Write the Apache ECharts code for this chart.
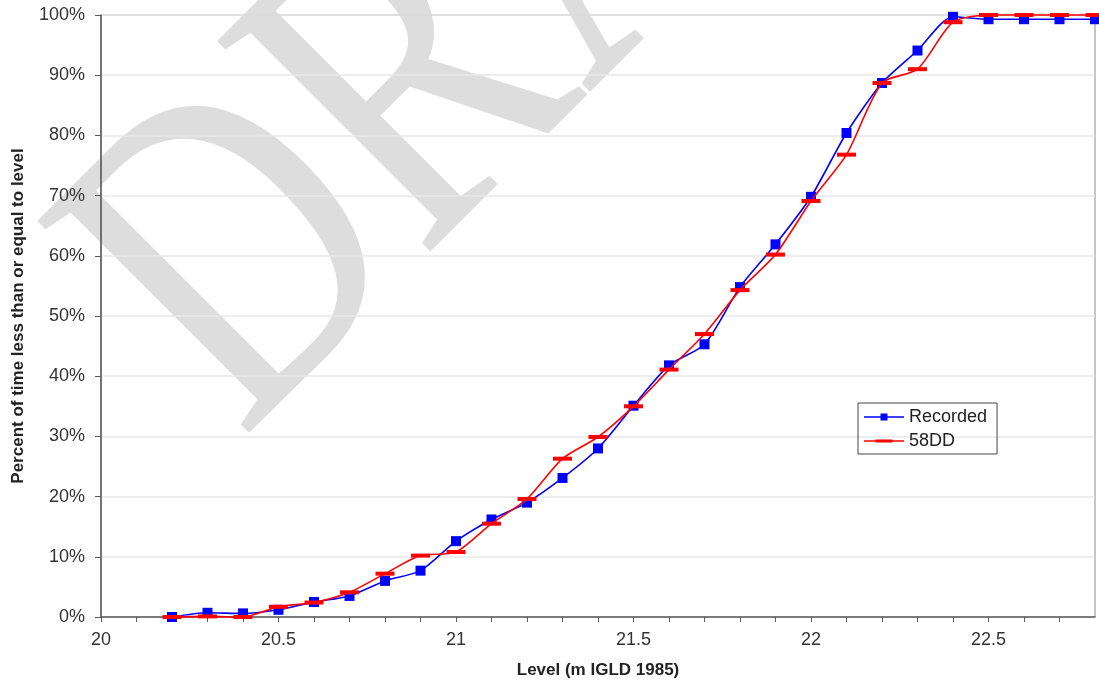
<!DOCTYPE html>
<html>
<head>
<meta charset="utf-8">
<script src="https://cdn.jsdelivr.net/npm/echarts@6/dist/echarts.min.js"></script>
<style>
  html, body { margin: 0; padding: 0; background: #ffffff; }
  #chart { width: 1099px; height: 684px; }
</style>
</head>
<body>
<div id="chart"></div>
<script>
// Water level (m IGLD 1985) at which each cumulative percentage is read
const levels = [20.2, 20.3, 20.4, 20.5, 20.6, 20.7, 20.8, 20.9, 21.0, 21.1, 21.2, 21.3, 21.4, 21.5,
                21.6, 21.7, 21.8, 21.9, 22.0, 22.1, 22.2, 22.3, 22.4, 22.5, 22.6, 22.7, 22.8];

// Percent of time the level is less than or equal to the value above
const recorded = [0.0, 0.7, 0.6, 1.2, 2.5, 3.5, 6.0, 7.7, 12.6, 16.2, 19.0, 23.1, 28.0, 35.1,
                  41.8, 45.3, 54.8, 61.9, 69.8, 80.4, 88.7, 94.1, 99.7, 99.3, 99.3, 99.3, 99.3];
const dd58 = [0.0, 0.1, 0.0, 1.7, 2.4, 4.1, 7.2, 10.2, 10.8, 15.5, 19.6, 26.3, 29.9, 35.0,
              41.1, 47.0, 54.3, 60.2, 69.1, 76.8, 88.7, 91.0, 98.8, 100, 100, 100, 100];

const seriesNames = ['Recorded', '58DD'];
const xTitle = 'Level (m IGLD 1985)';
const yTitle = 'Percent of time less than or equal to level';
const watermarkText = 'DRAFT';

const pairs = (ys) => levels.map((x, i) => [x, ys[i]]);
const sans = '"Liberation Sans", Arial, sans-serif';

// Legend icons: a thin line through a marker; the corner points pin the icon box to 40x10
const iconSquare = 'path://M0,0L0,0M40,10L40,10M0,4.2H40V5.8H0ZM16.5,1.5H23.5V8.5H16.5Z';
const iconDash = 'path://M0,0L0,0M40,10L40,10M0,4.2H40V5.8H0ZM11.5,3.4H28.5V6.6H11.5Z';

const chart = echarts.init(document.getElementById('chart'), null, { renderer: 'canvas' });

chart.setOption({
  animation: false,
  backgroundColor: '#ffffff',
  textStyle: { fontFamily: sans },
  graphic: {
    elements: [{
      type: 'text',
      silent: true,
      z: -100,
      x: 157,
      y: 355,
      rotation: Math.PI / 4,
      scaleX: 1,
      scaleY: 1.3,
      style: {
        text: watermarkText,
        fontSize: 352,
        fontFamily: '"Liberation Serif", "Times New Roman", serif',
        fill: '#dddddd',
        align: 'left',
        verticalAlign: 'middle'
      }
    }]
  },
  grid: {
    left: 101,
    right: 4,
    top: 15,
    bottom: 67,
    show: true,
    borderColor: '#8c8c8c',
    borderWidth: 1,
    backgroundColor: 'transparent'
  },
  legend: {
    orient: 'vertical',
    left: 858,
    top: 403,
    data: [
      { name: seriesNames[0], icon: iconSquare },
      { name: seriesNames[1], icon: iconDash }
    ],
    borderColor: '#444444',
    borderWidth: 1,
    padding: [5, 10, 4, 6],
    itemGap: 6,
    itemWidth: 40,
    itemHeight: 10,
    textStyle: { fontSize: 18, color: '#222222', fontFamily: sans }
  },
  xAxis: {
    type: 'value',
    min: 20,
    max: 22.8,
    interval: 0.1,
    name: xTitle,
    nameLocation: 'middle',
    nameGap: 45,
    nameTextStyle: { fontSize: 17, fontWeight: 'bold', color: '#222222', fontFamily: sans },
    axisLine: { show: true, onZero: false, lineStyle: { color: '#5a5a5a', width: 1.5 } },
    axisTick: { show: true, inside: false, length: 5, lineStyle: { color: '#5a5a5a', width: 1 } },
    axisLabel: {
      show: true,
      margin: 14,
      fontSize: 18,
      color: '#333333',
      showMaxLabel: false,
      formatter: (v) => {
        const twice = v * 2;
        return Math.abs(twice - Math.round(twice)) < 1e-6 ? String(+v.toFixed(1)) : '';
      }
    },
    splitLine: { show: false }
  },
  yAxis: {
    type: 'value',
    min: 0,
    max: 100,
    interval: 10,
    name: yTitle,
    nameLocation: 'middle',
    nameGap: 74,
    nameTextStyle: { fontSize: 17, fontWeight: 'bold', color: '#222222', fontFamily: sans },
    axisLine: { show: true, lineStyle: { color: '#5a5a5a', width: 1.5 } },
    axisTick: { show: true, inside: false, length: 6, lineStyle: { color: '#5a5a5a', width: 1 } },
    axisLabel: { margin: 16, fontSize: 18, color: '#333333', formatter: '{value}%' },
    splitLine: { show: true, lineStyle: { color: '#e8e8e8', width: 1.5 } }
  },
  series: [
    {
      name: seriesNames[0],
      type: 'line',
      data: pairs(recorded),
      smooth: 0.25,
      symbol: 'rect',
      symbolSize: 10,
      showAllSymbol: true,
      clip: false,
      color: '#0000ff',
      lineStyle: { color: '#0000ff', width: 1.6 },
      itemStyle: { color: '#0000ff' },
      z: 3
    },
    {
      name: seriesNames[1],
      type: 'line',
      data: pairs(dd58),
      smooth: 0.25,
      symbol: 'rect',
      symbolSize: [19, 4],
      showAllSymbol: true,
      clip: false,
      color: '#ff0000',
      lineStyle: { color: '#ff0000', width: 1.6 },
      itemStyle: { color: '#ff0000' },
      z: 4
    }
  ]
});
</script>
</body>
</html>
